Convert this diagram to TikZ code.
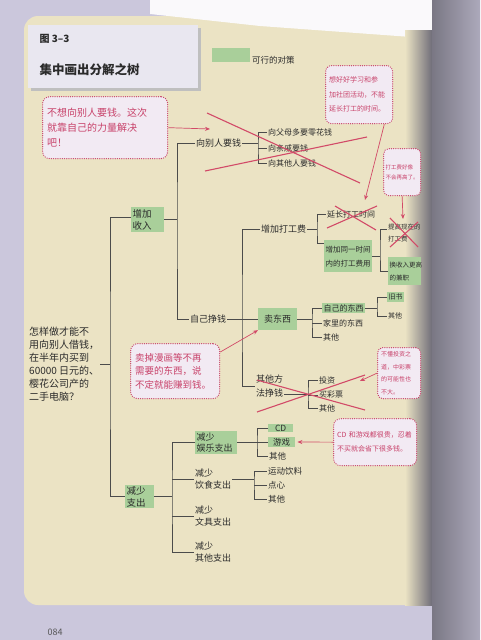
\documentclass[tikz,border=0pt]{standalone}
\usepackage{fontspec}
\setmainfont{Noto Sans CJK SC}
\usetikzlibrary{arrows.meta,calc}
\definecolor{cream}{HTML}{EBE3C4}
\definecolor{leaf}{HTML}{A9CF9A}
\definecolor{cfill}{HTML}{F2EAF3}
\definecolor{cred}{HTML}{C8426A}
\definecolor{xred}{HTML}{D24A68}
\definecolor{ink}{HTML}{2B2B2B}
\definecolor{pagebg}{HTML}{CBC7DC}
\definecolor{titlebg}{HTML}{E9E7F0}
\newcommand\myfs[2]{\fontsize{#1}{#2}\selectfont}
\begin{document}
\begin{tikzpicture}[x=1pt,y=-1pt,
 lbl/.style={anchor=west,inner sep=1pt,text=ink,align=left,font=\myfs{9}{12.5}},
 lbls/.style={lbl,font=\myfs{8}{12}},
 gbox/.style={lbl,fill=leaf,inner sep=1.5pt},
 tline/.style={draw=ink!85,line width=0.8pt},
 call/.style={draw=cred,line width=1.3pt,dash pattern=on 0pt off 2.2pt,line cap=round,rounded corners=7pt,fill=cfill,text=cred,align=left,anchor=north west,inner sep=3pt},
 xline/.style={draw=xred,line width=1.1pt},
 carrow/.style={draw=xred,line width=0.7pt,-{Stealth[length=5pt,width=4pt]}}]
\useasboundingbox (0,0) rectangle (480,640);
% background (photo of a page)
\fill[pagebg] (0,0) rectangle (480,640);
\fill[cream,rounded corners=14pt] (24,16) rectangle (440,605);
\fill[white!90!pagebg] (150,0) -- (480,0) -- (480,70) -- (425,38) -- (260,26) -- (150,14) -- cycle;
\shade[left color=cream,right color=black!45!pagebg] (405,30) rectangle (432,605);
\shade[left color=black!40!pagebg,right color=pagebg!85!black] (432,0) rectangle (480,640);
% title box
\fill[black!25] (31,28) rectangle (201,91);
\fill[titlebg] (28,25) rectangle (198,88);
\node[anchor=west,text=ink,font=\myfs{10}{12}\bfseries] (fig) at (36,39) {图 3–3};
\node[anchor=west,text=ink,font=\myfs{12.5}{14}\bfseries] (ttl) at (36,70) {集中画出分解之树};
% legend
\node[fill=leaf,minimum width=38,minimum height=14,inner sep=0,anchor=north west] (leg) at (212,48) {};
\node[lbl,font=\myfs{8.5}{10}] (legt) at (251,60) {可行的对策};
% root
\node[lbl,font=\myfs{10}{13}] (root) at (28,364) {怎样做才能不\\用向别人借钱，\\在半年内买到\\60000 日元的、\\樱花公司产的\\二手电脑？};
\coordinate (v0) at (110,364);
\node[gbox,text width=30,minimum height=25,anchor=north west,font=\myfs{9.5}{12}] (inc) at (131,207) {增加\\收入};
\node[gbox,text width=26,anchor=north west,font=\myfs{9.5}{11.5}] (dec) at (125,485) {减少\\支出};
\draw[tline] (root.east) -- (root.east -| v0);
\draw[tline] ([yshift=-10pt]inc.north west) -| (v0) |- (dec.west);
% income
\coordinate (v1) at (177,220);
\node[lbl] (ask) at (195,143) {向别人要钱};
\node[lbl] (self) at (189,319) {自己挣钱};
\draw[tline] (inc.east) -- (inc.east -| v1);
\draw[tline] (ask.west) -| (v1) |- (self.west);
\coordinate (v2) at (258,146);
\node[lbls] (p1) at (267,132) {向父母多要零花钱};
\node[lbls] (p2) at (267,148) {向亲戚要钱};
\node[lbls] (p3) at (267,163) {向其他人要钱};
\draw[tline] (ask.east) -- (ask.east -| v2);
\draw[tline] (p1.west) -| (v2) |- (p3.west);
\draw[tline] (p2.west) -- (p2.west -| v2);
% earn by self
\coordinate (v3) at (242,319);
\node[lbl] (work) at (260,229) {增加打工费};
\node[gbox,minimum width=39,minimum height=22] (sell) at (258,319) {卖东西};
\node[lbl,font=\myfs{9}{13.5}] (other) at (255,386) {其他方\\法挣钱};
\draw[tline] (self.east) -- (sell.west);
\draw[tline] (work.west) -| (v3) |- (other.west);
% sell
\coordinate (v4) at (312,319);
\node[gbox,font=\myfs{8}{10}] (own) at (322,308) {自己的东西};
\node[lbls] (home) at (322,323) {家里的东西};
\node[lbls] (oth1) at (322,337) {其他};
\draw[tline] (sell.east) -- (sell.east -| v4);
\draw[tline] (own.west) -| (v4) |- (oth1.west);
\draw[tline] (home.west) -- (home.west -| v4);
\coordinate (v5) at (377,308);
\node[gbox,font=\myfs{7}{9}] (books) at (387,297) {旧书};
\node[lbl,font=\myfs{7}{9}] (oth2) at (387,316) {其他};
\draw[tline] (own.east) -- (own.east -| v5);
\draw[tline] (books.west) -| (v5) |- (oth2.west);
% work
\coordinate (v6) at (317,229);
\node[lbls] (ext) at (326,214) {延长打工时间};
\node[gbox,font=\myfs{7.5}{14},anchor=north west,text width=45,minimum height=32] (same) at (324,240) {增加同一时间\\内的打工费用};
\draw[tline] (work.east) -- (work.east -| v6);
\draw[tline] (ext.west) -| (v6) |- ([yshift=-3pt]same.north west);
\coordinate (v7) at (380,250);
\node[lbl,font=\myfs{6.5}{12},anchor=north west] (raise) at (387,223) {提高现在的\\打工费};
\node[gbox,font=\myfs{6.5}{13},anchor=north west,text width=30,minimum height=28] (high) at (388,257) {换收入更高\\的兼职};
\draw[tline] (same.east) -- (same.east -| v7);
\draw[tline] ([yshift=-6pt]raise.north west) -| (v7) |- (high.west);
% other ways
\coordinate (v8) at (308,394);
\node[lbls] (inv) at (318,380) {投资};
\node[lbls] (lot) at (318,395) {买彩票};
\node[lbls] (oth3) at (318,408) {其他};
\draw[tline] ([yshift=-8pt]other.east) -- (v8);
\draw[tline] (inv.west) -| (v8) |- (oth3.west);
\draw[tline] (lot.west) -- (lot.west -| v8);
% spending
\coordinate (v9) at (172,497);
\node[gbox,anchor=north west,text width=39,font=\myfs{9}{11.5}] (ent) at (195,431) {减少\\娱乐支出};
\node[lbl,font=\myfs{9}{12}] (food) at (194,479) {减少\\饮食支出};
\node[lbl,font=\myfs{9}{12}] (stat) at (194,516) {减少\\文具支出};
\node[lbl,font=\myfs{9}{12}] (misc) at (194,552) {减少\\其他支出};
\draw[tline] (dec.east) -- (dec.east -| v9);
\draw[tline] (ent.west) -| (v9) |- (misc.west);
\draw[tline] (food.west) -- (food.west -| v9);
\draw[tline] (stat.west) -- (stat.west -| v9);
\coordinate (v10) at (257,442);
\node[gbox,font=\myfs{8.5}{10},inner sep=1pt,minimum width=25] (cd) at (268,428) {CD};
\node[gbox,font=\myfs{8.5}{10},inner sep=1pt,minimum width=27] (game) at (268,442) {游戏};
\node[lbl,font=\myfs{8.5}{10}] (oth4) at (268,456) {其他};
\draw[tline] (ent.east) -- (ent.east -| v10);
\draw[tline] (cd.west) -| (v10) |- (oth4.west);
\draw[tline] (game.west) -- (game.west -| v10);
\coordinate (v11) at (254,481);
\node[lbl,font=\myfs{8.5}{10}] (drink) at (267,471) {运动饮料};
\node[lbl,font=\myfs{8.5}{10}] (snack) at (267,485) {点心};
\node[lbl,font=\myfs{8.5}{10}] (oth5) at (267,499) {其他};
\draw[tline] (food.east) -- (food.east -| v11);
\draw[tline] (drink.west) -| (v11) |- (oth5.west);
\draw[tline] (snack.west) -- (snack.west -| v11);
% red crosses
\draw[xline] (207,113) -- (360,183);
\draw[xline] (205,171) -- (367,137);
\draw[xline] (327,228) -- (377,206);
\draw[xline] (335,206) -- (376,230);
\draw[xline] (390,218) -- (418,247);
\draw[xline] (390,247) -- (418,222);
\draw[xline] (257,380) -- (365,410);
\draw[xline] (257,412) -- (365,375);
% callouts
\node[call,minimum width=125,minimum height=62,text width=116,font=\myfs{10}{15}] (c1) at (42,96) {不想向别人要钱。这次\\就靠自己的力量解决\\吧！};
\coordinate (a1) at (210,129);
\draw[carrow] (c1.east) -- (a1);
\node[call,minimum width=67,minimum height=58,text width=60,font=\myfs{7}{14.5},rounded corners=6pt] (c2) at (325,65) {想好好学习和参\\加社团活动，不能\\延长打工的时间。};
\coordinate (a2) at (365,200);
\draw[carrow] ([xshift=-9pt]c2.south east) -- (a2);
\node[call,minimum width=37,minimum height=47,text width=33,inner sep=2pt,font=\myfs{5.5}{10},rounded corners=5pt] (c3) at (383,148) {打工费好像\\不会再高了。};
\coordinate (a3) at (403,219);
\draw[carrow] (c3.south) -- (a3);
\node[call,minimum width=43,minimum height=51,text width=36,inner sep=2pt,font=\myfs{6}{12.5},rounded corners=5pt] (c4) at (377,347) {不懂投资之\\道，中彩票\\的可能性也\\不大。};
\coordinate (a4) at (360,381);
\draw[carrow] (c4.west) -- (a4);
\node[call,minimum width=89,minimum height=55,text width=80,font=\myfs{9.5}{13.5}] (c5) at (130,343) {卖掉漫画等不再\\需要的东西，说\\不定就能赚到钱。};
\draw[carrow] ([yshift=-9pt]c5.north east) -- (sell.south west);
\node[call,minimum width=83,minimum height=47,text width=76,font=\myfs{7}{14}] (c6) at (333,418) {CD 和游戏都很贵，忍着\\不买就会省下很多钱。};
\draw[carrow] (c6.west) -- ([xshift=2pt]game.east);
% page number
\node[anchor=west,text=ink!80,font=\myfs{9}{10}] (pg) at (44,632) {084};
\end{tikzpicture}
\end{document}
